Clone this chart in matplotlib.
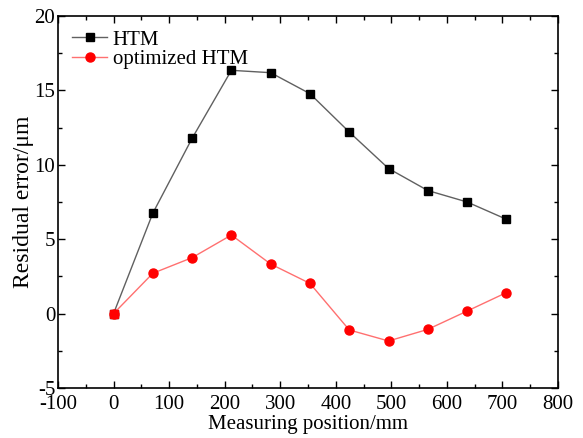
import matplotlib
matplotlib.use("Agg")
import matplotlib.pyplot as plt
from matplotlib.ticker import MultipleLocator

positions = [0, 70.7, 141.4, 212.1, 282.8, 353.5, 424.3, 495.0, 565.7, 636.4, 707.1]
htm = [0.0, 6.75, 11.78, 16.35, 16.19, 14.78, 12.2, 9.75, 8.27, 7.5, 6.34]
opt_htm = [0.0, 2.71, 3.76, 5.28, 3.33, 2.03, -1.1, -1.84, -1.06, 0.17, 1.41]

plt.rcParams['font.family'] = ['Liberation Serif', 'DejaVu Serif']
plt.rcParams['axes.unicode_minus'] = False

fig = plt.figure(figsize=(5.83, 4.38), dpi=100)
ax = fig.add_axes([58/583, 1-388/438, 500/583, 372/438])

ax.plot(positions, htm, color='#606060', lw=1.0, marker='s', ms=6,
        mfc='black', mec='black', label='HTM', zorder=3)
ax.plot(positions, opt_htm, color='#ff7070', lw=1.0, marker='o', ms=6.5,
        mfc='red', mec='red', label='optimized HTM', zorder=3)
ax.plot(positions[:1], opt_htm[:1], ls='none', marker='s', ms=6,
        mfc='red', mec='red', zorder=4)

ax.set_xlim(-100, 800)
ax.set_ylim(-5, 20)
ax.xaxis.set_major_locator(MultipleLocator(100))
ax.xaxis.set_minor_locator(MultipleLocator(50))
ax.yaxis.set_major_locator(MultipleLocator(5))
ax.yaxis.set_minor_locator(MultipleLocator(2.5))
ax.tick_params(which='both', direction='in', top=True, right=True, labelsize=15,
               width=1.0)
ax.tick_params(axis='x', pad=5)
ax.tick_params(axis='y', pad=2)
ax.tick_params(which='major', length=5)
ax.tick_params(which='minor', length=3)
for s in ax.spines.values():
    s.set_linewidth(1.2)

ax.set_xlabel('Measuring position/mm', fontsize=15, labelpad=0.5)
ax.set_ylabel('Residual error/μm', fontsize=17, labelpad=0)

leg = ax.legend(loc='upper left', bbox_to_anchor=(0.028, 0.962), frameon=False,
                fontsize=15, handlelength=1.7, borderaxespad=0.0, borderpad=0.0,
                handletextpad=0.25, labelspacing=0.0)

fig.savefig('out.png', dpi=100)
